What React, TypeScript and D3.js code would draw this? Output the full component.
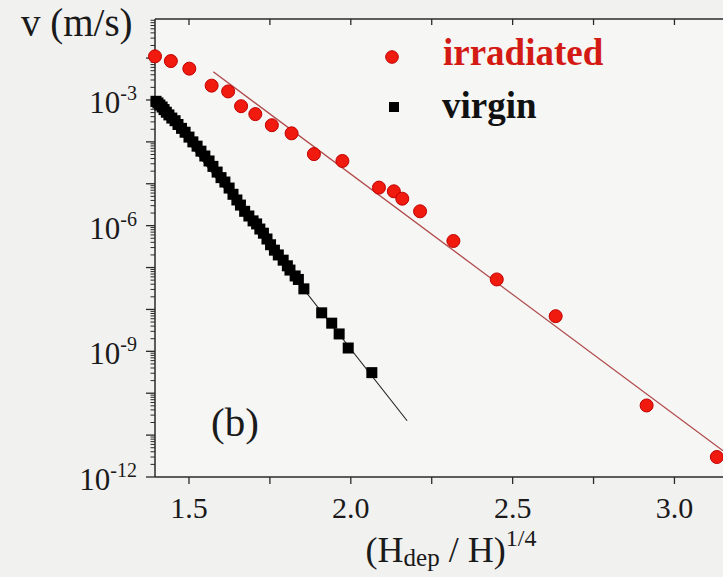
import React from "react";
import * as d3 from "d3";

// ---- data ----
const irradiatedX = [1.395, 1.444, 1.501, 1.570, 1.621, 1.661, 1.705, 1.756, 1.817, 1.886, 1.974, 2.087, 2.133, 2.159, 2.214, 2.317, 2.451, 2.633, 2.914, 3.131];
const irradiatedV = [1.1e-2, 8.5e-3, 5.6e-3, 2.2e-3, 1.6e-3, 7.1e-4, 4.6e-4, 2.5e-4, 1.6e-4, 5.1e-5, 3.5e-5, 8.1e-6, 6.6e-6, 4.4e-6, 2.2e-6, 4.3e-7, 5.2e-8, 6.9e-9, 5.1e-11, 3.0e-12];

const virginX = [1.398, 1.404, 1.410, 1.417, 1.423, 1.430, 1.438, 1.447, 1.457, 1.466, 1.477, 1.488, 1.500, 1.512, 1.525, 1.537, 1.549, 1.562, 1.574, 1.587, 1.599, 1.611, 1.624, 1.636, 1.648, 1.659, 1.672, 1.685, 1.698, 1.709, 1.719, 1.730, 1.741, 1.752, 1.764, 1.776, 1.791, 1.804, 1.812, 1.828, 1.838, 1.855, 1.910, 1.941, 1.964, 1.992, 2.065];
const virginV = [9.3e-4, 8.5e-4, 7.6e-4, 6.8e-4, 5.9e-4, 5.1e-4, 4.4e-4, 3.7e-4, 3.2e-4, 2.6e-4, 2.1e-4, 1.7e-4, 1.3e-4, 1.0e-4, 7.9e-5, 6.0e-5, 4.6e-5, 3.5e-5, 2.6e-5, 1.9e-5, 1.4e-5, 1.1e-5, 7.9e-6, 5.6e-6, 4.1e-6, 3.1e-6, 2.2e-6, 1.7e-6, 1.3e-6, 1.1e-6, 8.3e-7, 6.6e-7, 4.8e-7, 3.5e-7, 2.6e-7, 2.0e-7, 1.5e-7, 1.1e-7, 8.7e-8, 6.3e-8, 5.2e-8, 3.1e-8, 8.3e-9, 4.7e-9, 2.6e-9, 1.2e-9, 3.1e-10];

const irradiatedFitX = [1.575, 3.16];
const irradiatedFitV = [4.7e-3, 3.7e-12];
const virginFitX = [1.398, 2.174];
const virginFitV = [9.3e-4, 2.2e-11];

const xTicks = [1.5, 2.0, 2.5, 3.0];
const xTickLabels = ["1.5", "2.0", "2.5", "3.0"];
const xMinorTicks = [1.75, 2.25, 2.75];
const yLabelExps = [-3, -6, -9, -12];
const yDecades = [-12, -11, -10, -9, -8, -7, -6, -5, -4, -3, -2, -1];

const SERIF = "'Liberation Serif', 'Times New Roman', serif";

export default function App() {
  const W = 723, H = 577;
  const left = 155, right = 723, top = 19, bottom = 477;
  const yMax = Math.pow(10, -1.067);
  const x = d3.scaleLinear().domain([1.395, 3.150]).range([left, right]);
  const y = d3.scaleLog().domain([1e-12, yMax]).range([bottom, top]);

  const line = d3.line<[number, number]>().x(d => x(d[0])).y(d => y(d[1]));
  const redFit = irradiatedFitX.map((v, i) => [v, irradiatedFitV[i]] as [number, number]);
  const blackFit = virginFitX.map((v, i) => [v, virginFitV[i]] as [number, number]);

  const minor: number[] = [];
  yDecades.forEach(e => {
    for (let m = 2; m <= 9; m++) {
      const v = m * Math.pow(10, e);
      if (v <= yMax) minor.push(v);
    }
  });
  const majors = yDecades.map(e => Math.pow(10, e)).filter(v => v <= yMax);
  const axisColor = "#2a2a2a";

  return (
    <svg width={W} height={H} style={{ position: "absolute", left: 0, top: 0, display: "block" }} fontFamily={SERIF}>
      <defs>
        <clipPath id="plotclip">
          <rect x={left} y={top} width={right - left} height={bottom - top} />
        </clipPath>
      </defs>
      <rect x={0} y={0} width={W} height={H} fill="#f1f1f0" />
      <rect x={left} y={top} width={right - left} height={bottom - top} fill="#f6f6f5" />

      {/* axes */}
      <line x1={left} x2={right} y1={top} y2={top} stroke={axisColor} strokeWidth={1.5} />
      <line x1={left} x2={right} y1={bottom} y2={bottom} stroke={axisColor} strokeWidth={1.5} />
      <line x1={left} x2={left} y1={top} y2={bottom} stroke={axisColor} strokeWidth={1.5} />

      {/* x ticks */}
      {[...xTicks, ...xMinorTicks].map((t, i) => (
        <g key={"xt" + i}>
          <line x1={x(t)} x2={x(t)} y1={bottom} y2={bottom + 7} stroke={axisColor} strokeWidth={1.3} />
          <line x1={x(t)} x2={x(t)} y1={top} y2={top + 6} stroke={axisColor} strokeWidth={1.3} />
        </g>
      ))}
      {xTicks.map((t, i) => (
        <text key={"xl" + i} x={x(t)} y={518} fontSize={30} textAnchor="middle" fill="#1a1a1a">{xTickLabels[i]}</text>
      ))}

      {/* y ticks */}
      {majors.map((v, i) => (
        <line key={"ym" + i} x1={left - 9} x2={left} y1={y(v)} y2={y(v)} stroke={axisColor} strokeWidth={1.3} />
      ))}
      {minor.map((v, i) => (
        <line key={"yn" + i} x1={left - 4.5} x2={left} y1={y(v)} y2={y(v)} stroke={axisColor} strokeWidth={1} />
      ))}
      {yLabelExps.map((e, i) => (
        <text key={"yl" + i} x={137} y={y(Math.pow(10, e)) + 13} fontSize={31} textAnchor="end" fill="#1a1a1a">
          10<tspan fontSize={20} dy={-13}>{String(e)}</tspan>
        </text>
      ))}

      {/* axis titles */}
      <text x={21} y={36} fontSize={39} fill="#1a1a1a">v (m/s)</text>
      <text x={451} y={562} fontSize={36} textAnchor="middle" fill="#1a1a1a">
        (H<tspan fontSize={25} dy={4}>dep</tspan><tspan dy={-4}> / H)</tspan><tspan fontSize={24} dy={-16}>1/4</tspan>
      </text>
      <text x={211} y={436} fontSize={41} fill="#1a1a1a">(b)</text>

      {/* fit lines */}
      <g clipPath="url(#plotclip)">
        <path d={line(redFit) || ""} fill="none" stroke="#b04a4a" strokeWidth={1.3} />
        <path d={line(blackFit) || ""} fill="none" stroke="#222" strokeWidth={1.1} />
      </g>

      {/* virgin squares */}
      {virginX.map((xv, i) => (
        <rect key={"v" + i} x={x(xv) - 5.5} y={y(virginV[i]) - 5.5} width={11} height={11} fill="#000" />
      ))}
      {/* irradiated circles */}
      {irradiatedX.map((xv, i) => (
        <circle key={"r" + i} cx={x(xv)} cy={y(irradiatedV[i])} r={6.5} fill="#f01a0e" stroke="#c00000" strokeWidth={1} />
      ))}

      {/* legend */}
      <circle cx={392} cy={57} r={6.3} fill="#f01a0e" stroke="#c00000" strokeWidth={1} />
      <text x={443} y={65} fontSize={37} fontWeight="bold" fill="#d41a14">irradiated</text>
      <rect x={389} y={102} width={10} height={10} fill="#000" />
      <text x={442} y={118} fontSize={37} fontWeight="bold" fill="#111">virgin</text>
    </svg>
  );
}
